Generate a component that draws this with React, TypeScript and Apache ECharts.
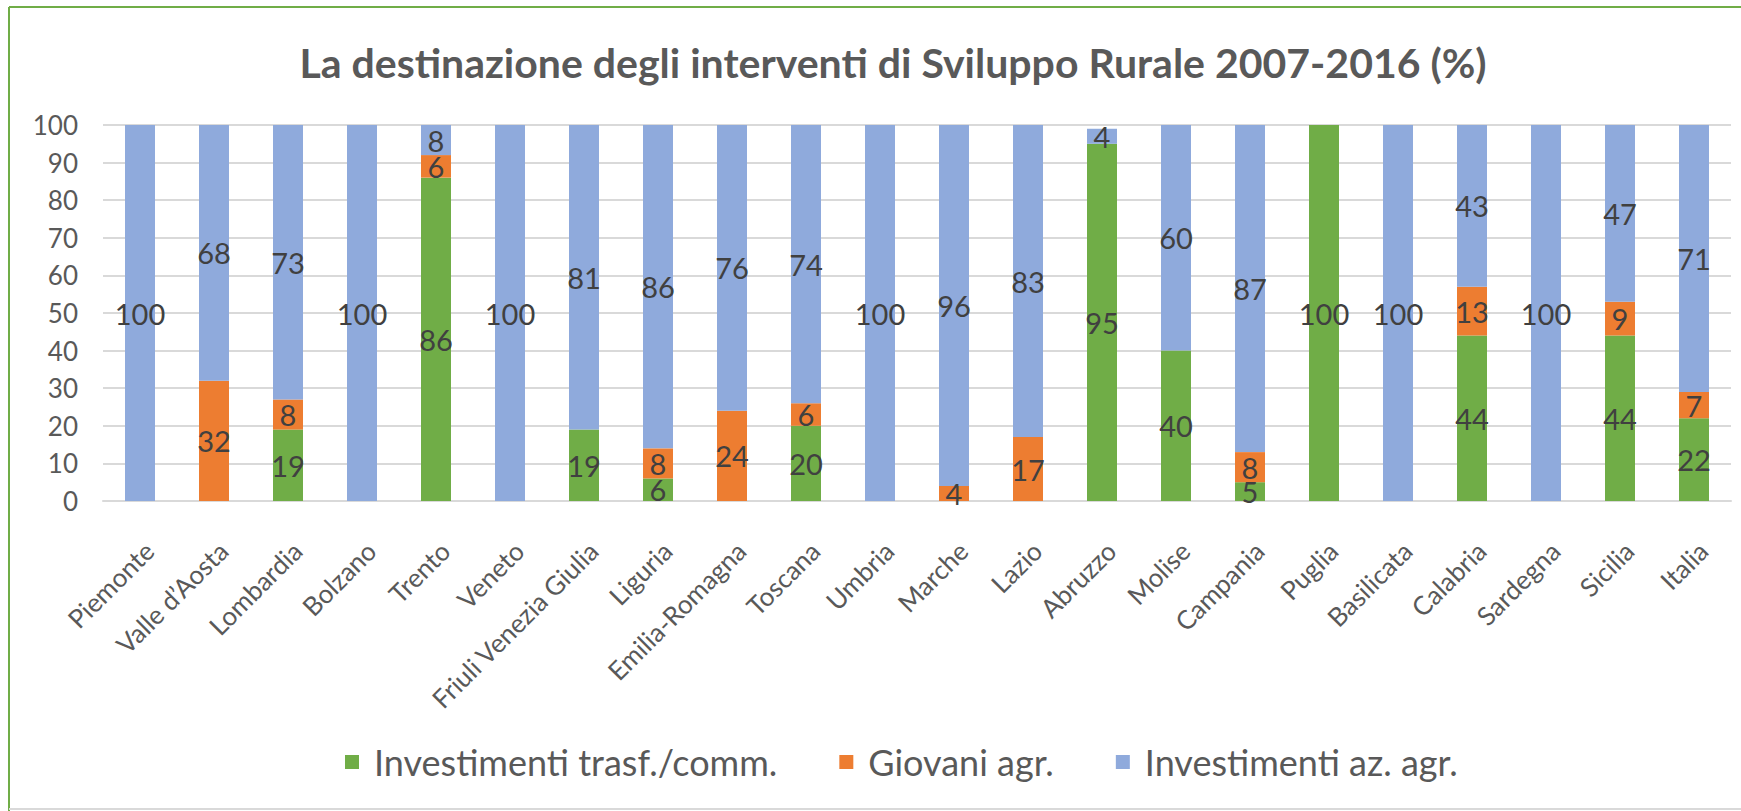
import React, { useEffect, useRef } from "react";
import * as echarts from "echarts";

const categories = [
  "Piemonte", "Valle d’Aosta", "Lombardia", "Bolzano", "Trento", "Veneto",
  "Friuli Venezia Giulia", "Liguria", "Emilia-Romagna", "Toscana", "Umbria",
  "Marche", "Lazio", "Abruzzo", "Molise", "Campania", "Puglia", "Basilicata",
  "Calabria", "Sardegna", "Sicilia", "Italia",
];
const investTrasf = [0, 0, 19, 0, 86, 0, 19, 6, 0, 20, 0, 0, 0, 95, 40, 5, 100, 0, 44, 0, 44, 22];
const giovani = [0, 32, 8, 0, 6, 0, 0, 8, 24, 6, 0, 4, 17, 0, 0, 8, 0, 0, 13, 0, 9, 7];
const investAz = [100, 68, 73, 100, 8, 100, 81, 86, 76, 74, 100, 96, 83, 4, 60, 87, 0, 100, 43, 100, 47, 71];
const seriesNames = ["Investimenti trasf./comm.", "Giovani agr.", "Investimenti az. agr."];
const colors = ["#70AD47", "#ED7D31", "#8FAADC"];
const titleText = "La destinazione degli interventi di Sviluppo Rurale 2007-2016 (%)";

const FONT = "Lato, 'Noto Sans', sans-serif";

export default function App() {
  const ref = useRef<HTMLDivElement>(null);
  useEffect(() => {
    if (!ref.current) return;
    const chart = echarts.init(ref.current, undefined, { renderer: "svg" });
    const mk = (name: string, data: number[], color: string) => ({
      name,
      type: "bar",
      stack: "total",
      data,
      barWidth: 30,
      itemStyle: { color },
      label: {
        show: true,
        position: "inside",
        color: "#404040",
        fontFamily: FONT,
        fontSize: 29,
        formatter: (p: any) => (p.value ? String(p.value) : ""),
      },
    });
    chart.setOption({
      animation: false,
      backgroundColor: "#ffffff",
      title: {
        text: titleText,
        left: 888,
        top: 37,
        textAlign: "center",
        textStyle: { fontFamily: FONT, fontSize: 41, fontWeight: "bold", color: "#595959" },
      },
      legend: {
        data: seriesNames,
        left: 340,
        top: 739,
        itemWidth: 14,
        itemHeight: 14,
        itemGap: 62,
        icon: "rect",
        textStyle: { fontFamily: FONT, fontSize: 36, color: "#595959", padding: [0, 0, 0, 10] },
      },
      grid: { left: 103, right: 10, top: 125, bottom: 310, containLabel: false },
      xAxis: {
        type: "category",
        data: categories,
        axisTick: { show: false },
        axisLine: { lineStyle: { color: "#D9D9D9", width: 2 } },
        axisLabel: {
          rotate: 45,
          interval: 0,
          margin: 36,
          align: "right",
          verticalAlign: "top",
          fontFamily: FONT,
          fontSize: 26,
          color: "#595959",
        },
      },
      yAxis: {
        type: "value",
        min: 0,
        max: 100,
        interval: 10,
        axisLine: { show: false },
        axisTick: { show: false },
        splitLine: { lineStyle: { color: "#D9D9D9", width: 2 } },
        axisLabel: { margin: 25, fontFamily: FONT, fontSize: 26, color: "#595959" },
      },
      graphic: [
        { type: "line", shape: { x1: 9, y1: 7, x2: 1741, y2: 7 }, style: { stroke: "#70AD47", lineWidth: 2 } },
        { type: "line", shape: { x1: 9, y1: 7, x2: 9, y2: 811 }, style: { stroke: "#70AD47", lineWidth: 2 } },
        { type: "line", shape: { x1: 9, y1: 809, x2: 1741, y2: 809 }, style: { stroke: "#D9D9D9", lineWidth: 2 } },
      ],
      series: [
        mk(seriesNames[0], investTrasf, colors[0]),
        mk(seriesNames[1], giovani, colors[1]),
        mk(seriesNames[2], investAz, colors[2]),
      ],
    });
    return () => chart.dispose();
  }, []);
  return (
    <div
      ref={ref}
      style={{ position: "fixed", left: 0, top: 0, width: 1741, height: 811, background: "#fff" }}
    />
  );
}
